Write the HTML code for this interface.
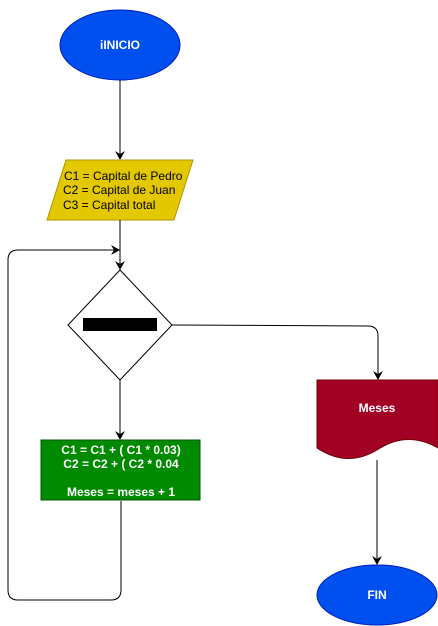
<!DOCTYPE html>
<html><head><style>body{margin:0;background:#fff}svg{display:block}text{font-family:"Liberation Sans",Arial,sans-serif}</style></head>
<body>
<svg width="438" height="626" viewBox="0 0 438 626" xmlns="http://www.w3.org/2000/svg">
<defs><marker id="a" markerWidth="10" markerHeight="10" refX="8" refY="5" orient="auto" markerUnits="userSpaceOnUse"><path d="M0,0 L9,5 L0,10 L3,5 Z" fill="#000"/></marker></defs>
<ellipse cx="120" cy="45" rx="60" ry="35" fill="#0050ef" stroke="#001dbc"/>
<text x="120" y="49" fill="#fff" font-size="12" font-weight="bold" text-anchor="middle">iINICIO</text>
<line x1="120" y1="80" x2="120" y2="159" stroke="#000" marker-end="url(#a)"/>
<polygon points="66,160 193,160 174,220 47,220" fill="#e3c800" stroke="#b09500"/>
<text font-size="12" fill="#000"><tspan x="64" y="180">C1 = Capital de Pedro</tspan><tspan x="63" y="194">C2 = Capital de Juan</tspan><tspan x="63" y="209">C3 = Capital total</tspan></text>
<line x1="120" y1="220" x2="120" y2="269" stroke="#000" marker-end="url(#a)"/>
<path d="M121,501 L121,590 Q121,600 111,600 L18,600 Q8,600 8,590 L8,260 Q8,250 18,250 L119,250" fill="none" stroke="#000" marker-end="url(#a)"/>
<polygon points="120,270 172,325 120,380 68,325" fill="#fff" stroke="#000"/>
<rect x="83" y="318" width="74" height="13" fill="#000"/>
<path d="M172,325 L368,326 Q378,326 378,336 L378,379" fill="none" stroke="#000" marker-end="url(#a)"/>
<line x1="120" y1="380" x2="120" y2="439" stroke="#000" marker-end="url(#a)"/>
<path d="M317,380 L438,380 L438,448 Q407,430 377,450 Q347,468 317,448 Z" fill="#a20025" stroke="#6f0000"/>
<text x="377" y="412" fill="#fff" font-size="12" font-weight="bold" text-anchor="middle">Meses</text>
<rect x="41" y="440" width="159" height="60" fill="#008a00" stroke="#005700"/>
<text font-size="12" font-weight="bold" fill="#fff" text-anchor="middle"><tspan x="121" y="454">C1 = C1 + ( C1 * 0.03)</tspan><tspan x="121" y="468">C2 = C2 + ( C2 * 0.04</tspan><tspan x="121" y="496">Meses = meses + 1</tspan></text>
<line x1="377" y1="460" x2="377" y2="564" stroke="#000" marker-end="url(#a)"/>
<ellipse cx="377" cy="595" rx="60" ry="30" fill="#0050ef" stroke="#001dbc"/>
<text x="377" y="599" fill="#fff" font-size="12" font-weight="bold" text-anchor="middle">FIN</text>
</svg>
</body></html>
